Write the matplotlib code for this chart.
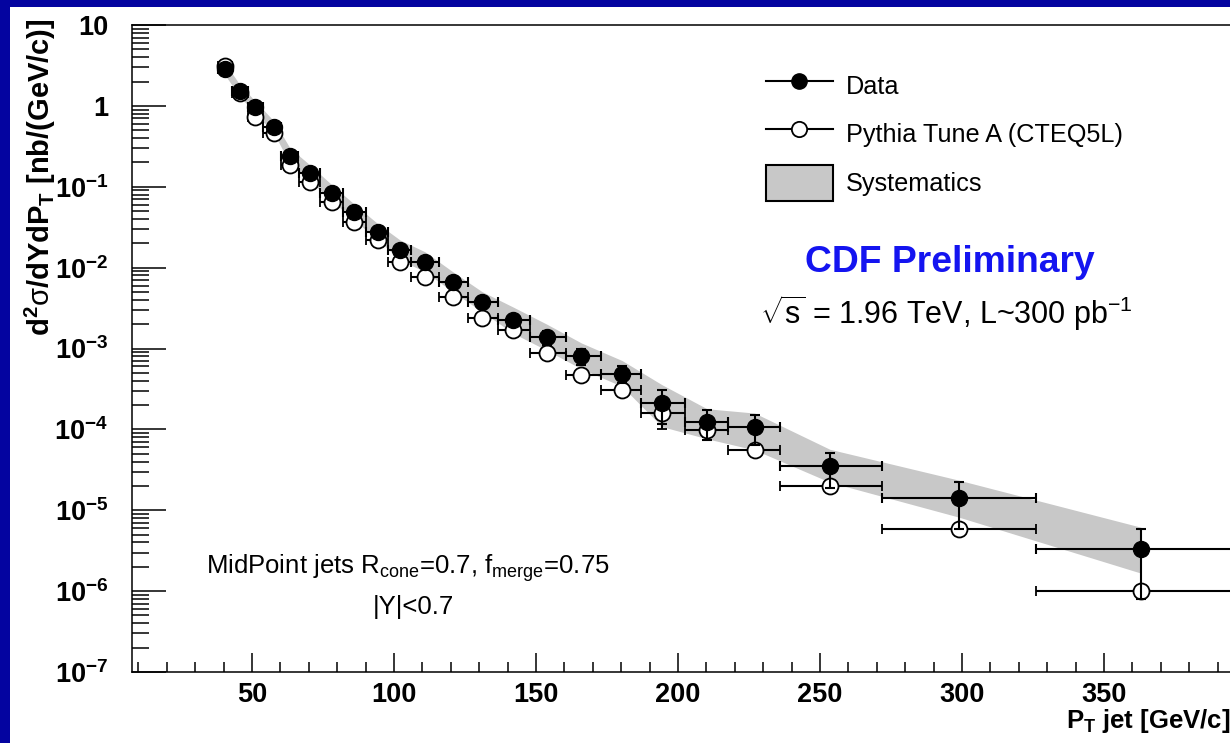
import numpy as np
import matplotlib
matplotlib.use('Agg')
import matplotlib.pyplot as plt
from matplotlib.lines import Line2D
from matplotlib.patches import Patch, Rectangle
from matplotlib.ticker import MultipleLocator, LogLocator, NullFormatter

plt.rcParams['font.family'] = ['Liberation Sans', 'DejaVu Sans']
plt.rcParams['mathtext.fontset'] = 'custom'
plt.rcParams['mathtext.rm'] = 'Liberation Sans'
plt.rcParams['mathtext.bf'] = 'Liberation Sans:bold'
plt.rcParams['mathtext.it'] = 'Liberation Sans:italic'
plt.rcParams['mathtext.sf'] = 'Liberation Sans'

# jet pT bins [GeV/c]
pt = [40.5, 45.8, 51.1, 57.7, 63.4, 70.4, 78.2, 85.9, 94.4, 102.1, 110.9, 120.8,
      131.0, 142.0, 153.8, 166.0, 180.3, 194.4, 210.2, 227.0, 253.5, 299.0, 363.0]
bin_lo = [38.0, 43.0, 48.5, 54.0, 60.2, 66.5, 74.0, 82.0, 90.0, 98.0, 106.0, 116.0,
          126.0, 136.5, 148.0, 160.5, 173.0, 187.0, 202.5, 217.5, 236.0, 272.0, 326.0]
bin_hi = [43.0, 48.5, 54.0, 60.2, 66.2, 73.9, 82.0, 90.0, 98.0, 106.0, 116.0, 126.0,
          136.5, 148.0, 160.5, 173.0, 187.0, 202.5, 217.5, 236.0, 272.0, 326.0, 400.0]

# d2sigma/dYdPT [nb/(GeV/c)]
data = [2.86, 1.53, 0.97, 0.548, 0.240, 0.148, 0.0838, 0.0489, 0.0276, 0.01656, 0.0118, 0.00665,
        0.0038, 0.00224, 0.00138, 0.00081, 0.00049, 2.13e-4, 1.24e-4, 1.07e-4, 3.5e-5, 1.41e-5, 3.3e-6]
data_err = [0.03, 0.02, 0.012, 0.007, 0.004, 0.003, 0.002, 0.0012, 0.0008, 0.0006, 0.0005, 0.0006,
            0.0004, 0.00028, 0.00028, 0.00018, 0.00012, 0.97e-4, 0.5e-4, 0.43e-4, 1.6e-5, 0.83e-5, 2.5e-6]
pythia = [3.11, 1.45, 0.73, 0.462, 0.186, 0.115, 0.0648, 0.0367, 0.022, 0.0118, 0.0077, 0.00436,
          0.0024, 0.0017, 0.00089, 0.00047, 0.00031, 1.58e-4, 9.9e-5, 5.6e-5, 2.0e-5, 5.9e-6, 1.0e-6]
pythia_err = [0.02, 0.01, 0.006, 0.004, 0.002, 0.001, 0.0006, 0.0004, 0.0002, 0.0001, 0.0001, 5e-5,
              3e-5, 2e-5, 1e-5, 6e-6, 4e-6, 0.58e-4, 1.8e-5, 1e-6, 5e-7, 2e-7, 5e-8]
sys_hi = [3.39, 1.81, 1.15, 0.65, 0.30, 0.186, 0.105, 0.0614, 0.0347, 0.022, 0.0157, 0.00885,
          0.00505, 0.00325, 0.0020, 0.00117, 0.00071, 3.56e-4, 1.80e-4, 1.59e-4, 5.67e-5, 2.35e-5, 6.17e-6]
sys_lo = [2.41, 1.29, 0.82, 0.462, 0.191, 0.118, 0.0667, 0.0389, 0.022, 0.01245, 0.0089, 0.0050,
          0.00286, 0.00154, 0.00095, 0.00056, 0.00034, 1.08e-4, 7.65e-5, 5.57e-5, 2.22e-5, 8.2e-6, 1.67e-6]

x_ticks = [50, 100, 150, 200, 250, 300, 350]
x_tick_labels = ['50', '100', '150', '200', '250', '300', '350']
y_ticks = [1e-7, 1e-6, 1e-5, 1e-4, 1e-3, 1e-2, 1e-1, 1, 10]
y_tick_labels = [r'$\mathbf{10^{-7}}$', r'$\mathbf{10^{-6}}$', r'$\mathbf{10^{-5}}$', r'$\mathbf{10^{-4}}$',
                 r'$\mathbf{10^{-3}}$', r'$\mathbf{10^{-2}}$', r'$\mathbf{10^{-1}}$', '1', '10']

W, H = 1230, 743
def fx(x):
    return x / W
def fy(y):
    return 1 - y / H

fig = plt.figure(figsize=(W / 100, H / 100), dpi=100, facecolor='#0404a0')
fig.patches.append(Rectangle((fx(10), 0), 1.0, fy(7), transform=fig.transFigure,
                             facecolor='white', edgecolor='none', zorder=-10))
ax = fig.add_axes([fx(132), fy(672), fx(1240 - 132), fy(25) - fy(672)])

pt_a = np.array(pt)
xerr = [pt_a - np.array(bin_lo), np.array(bin_hi) - pt_a]

ax.fill_between(pt, sys_lo, sys_hi, color='#c8c8c8', lw=0, zorder=1)
ax.errorbar(pt, pythia, yerr=pythia_err, xerr=xerr, fmt='o', ms=11.5, mfc='white', mec='black',
            mew=1.3, color='black', elinewidth=1.5, capsize=3.5, capthick=1.5, zorder=3)
ax.errorbar(pt, data, yerr=data_err, xerr=xerr, fmt='o', ms=11.5, mfc='black', mec='black',
            color='black', elinewidth=1.5, capsize=3.5, capthick=1.5, zorder=4)

ax.set_yscale('log')
ax.set_xlim(7.75, 397.9)
ax.set_ylim(1e-7, 10)
ax.set_xticks(x_ticks, x_tick_labels, fontweight='bold', fontsize=19.5)
ax.xaxis.set_minor_locator(MultipleLocator(10))
ax.set_yticks(y_ticks, y_tick_labels, fontweight='bold', fontsize=19.5)
ax.yaxis.set_minor_locator(LogLocator(base=10, subs=np.arange(2, 10), numticks=20))
ax.yaxis.set_minor_formatter(NullFormatter())
ax.tick_params(axis='y', which='major', direction='in', length=24.5, width=1.1, pad=17)
ax.tick_params(axis='y', which='minor', direction='in', length=12, width=1.1)
ax.tick_params(axis='x', which='major', direction='in', length=14, width=1.1, pad=7)
ax.tick_params(axis='x', which='minor', direction='in', length=7, width=1.1)
for s in ax.spines.values():
    s.set_linewidth(1.1)

# legend
h_data = Line2D([], [], color='black', lw=1.5, marker='o', ms=11, mfc='black', mec='black')
h_mc = Line2D([], [], color='black', lw=1.5, marker='o', ms=11, mfc='white', mec='black', mew=1.3)
h_sys = Patch(facecolor='#c8c8c8', edgecolor='black', lw=1.5)
ax.legend([h_data, h_mc, h_sys], ['Data', 'Pythia Tune A (CTEQ5L)', 'Systematics'],
          loc='upper left', bbox_to_anchor=(fx(766), fy(68)), bbox_transform=fig.transFigure,
          frameon=False, fontsize=18.2, handlelength=2.65, handleheight=1.8, handletextpad=0.5,
          labelspacing=0.5, borderpad=0, borderaxespad=0, numpoints=1)

fig.text(fx(950), fy(262), 'CDF Preliminary', color='#1414f0', fontsize=26.8,
         fontweight='bold', ha='center', va='center')
fig.text(fx(760), fy(313), r'$\sqrt{\mathrm{s}}$ = 1.96 TeV, L~300 pb$^{-1}$', fontsize=22,
         ha='left', va='center')
fig.text(fx(408), fy(568), r'MidPoint jets R$_{\mathrm{cone}}$=0.7, f$_{\mathrm{merge}}$=0.75',
         fontsize=18.5, ha='center', va='center')
fig.text(fx(413), fy(607), '|Y|<0.7', fontsize=18.5, ha='center', va='center')

fig.text(fx(40), fy(18), r'$\mathbf{d^{2}}\mathrm{\sigma}\mathbf{/dYdP_{T}\ [nb/(GeV/c)]}$',
         rotation=90, ha='center', va='top', fontsize=21)
fig.text(fx(1230), fy(721), r'$\mathbf{P_{T}\ jet\ [GeV/c]}$', ha='right', va='center', fontsize=18.5)

fig.savefig('out.png', dpi=100, facecolor=fig.get_facecolor())
